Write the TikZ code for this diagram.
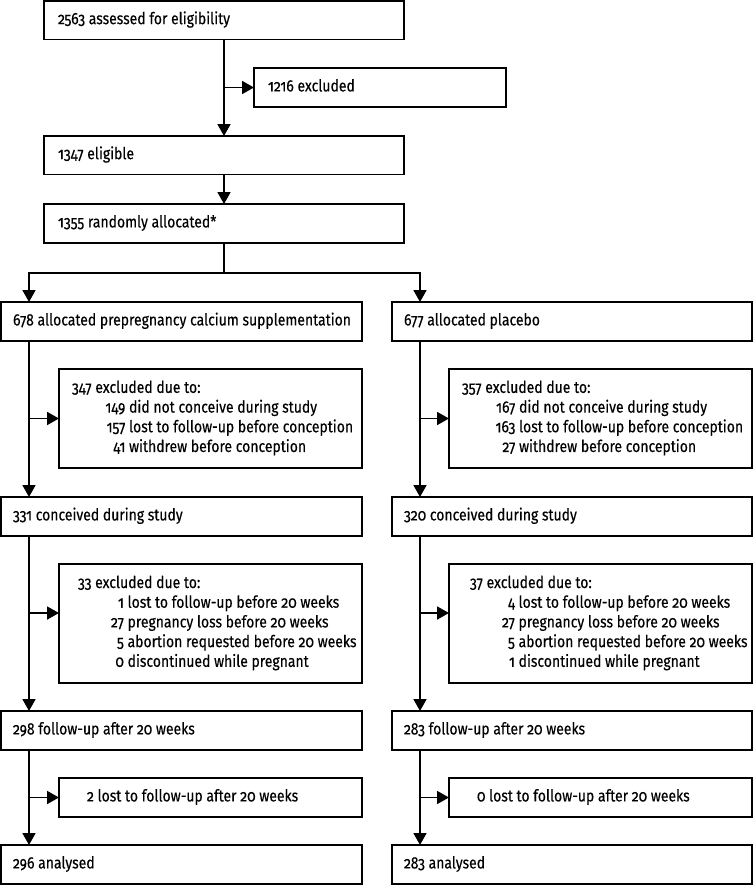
\documentclass[tikz,border=0pt]{standalone}
\usepackage{fontspec}
\usetikzlibrary{arrows.meta,calc}
\newfontfamily\probefont{Fira Sans}[Numbers=OldStyle]
\newlength\probelen
\settowidth\probelen{\probefont\fontsize{16.5}{19.7}\selectfont 678 allocated prepregnancy calcium supplementation}
\pgfmathsetmacro\stretchfac{338/\probelen}
\edef\tmpfontcmd{\noexpand\setmainfont{Fira Sans}[Numbers=OldStyle,FakeStretch=\stretchfac,FakeBold=0.3]}
\tmpfontcmd
\newlength\threedig
\newlength\twodig
\settowidth\threedig{\normalfont\fontsize{16.5}{19.7}\selectfont 000}
\settowidth\twodig{\normalfont\fontsize{16.5}{19.7}\selectfont 00}
\newcommand\nthree[1]{\makebox[\threedig][r]{#1}}
\newcommand\ntwo[1]{\makebox[\twodig][r]{#1}}
\newcommand\bxt[3]{\makebox[#1pt][l]{\hspace*{#2pt}\strut #3}}
\newcommand\bxm[3]{\makebox[#1pt][l]{\hspace*{#2pt}\begin{tabular}{@{}l@{}}#3\end{tabular}}}
\begin{document}
\begin{tikzpicture}[x=1pt,y=-1pt,
  every node/.style={font=\fontsize{16.5}{19.7}\selectfont, inner sep=0pt, outer sep=0pt},
  box/.style={draw, line width=1.8pt, anchor=north west, minimum height=#1},
  box/.default=38.5,
  conn/.style={line width=1.8pt},
  arr/.style={conn, -{Triangle[width=13pt,length=12pt]}}]
\useasboundingbox (0,0) rectangle (754,886);
% top part
\node[box] (A) at (44,1) {\bxt{360}{14}{2563 assessed for eligibility}};
\node[box=39] (X1) at (254,68) {\bxt{252}{14}{1216 excluded}};
\node[box] (B) at (44,136) {\bxt{360}{14}{1347 eligible}};
\node[box=39] (C) at (44,204) {\bxt{360}{14}{1355 randomly allocated*}};
% left column
\node[box=39] (DL) at (1,302) {\bxt{361}{12}{678 allocated prepregnancy calcium supplementation}};
\node[box=99] (EL) at (59,369) {\bxm{303}{13}{347 excluded due to:\\
  \hspace*{28pt}\nthree{149} did not conceive during study\\
  \hspace*{28pt}\nthree{157} lost to follow-up before conception\\
  \hspace*{28pt}\nthree{41} withdrew before conception}};
\node[box=39] (FL) at (1,497) {\bxt{361}{12}{331 conceived during study}};
\node[box=119] (GL) at (59,564) {\bxm{303}{19}{33 excluded due to:\\
  \hspace*{29pt}\ntwo{1} lost to follow-up before 20 weeks\\
  \hspace*{29pt}\ntwo{27} pregnancy loss before 20 weeks\\
  \hspace*{29pt}\ntwo{5} abortion requested before 20 weeks\\
  \hspace*{29pt}\ntwo{0} discontinued while pregnant}};
\node[box=39] (HL) at (1,711) {\bxt{361}{12}{298 follow-up after 20 weeks}};
\node[box=39] (IL) at (59,778) {\bxt{303}{28}{2 lost to follow-up after 20 weeks}};
\node[box=39] (JL) at (1,845) {\bxt{361}{12}{296 analysed}};
% right column
\node[box=39] (DR) at (392,302) {\bxt{360}{12}{677 allocated placebo}};
\node[box=99] (ER) at (449,369) {\bxm{303}{13}{357 excluded due to:\\
  \hspace*{28pt}\nthree{167} did not conceive during study\\
  \hspace*{28pt}\nthree{163} lost to follow-up before conception\\
  \hspace*{28pt}\nthree{27} withdrew before conception}};
\node[box=39] (FR) at (392,497) {\bxt{360}{12}{320 conceived during study}};
\node[box=119] (GR) at (449,564) {\bxm{303}{21}{37 excluded due to:\\
  \hspace*{28pt}\ntwo{4} lost to follow-up before 20 weeks\\
  \hspace*{28pt}\ntwo{27} pregnancy loss before 20 weeks\\
  \hspace*{28pt}\ntwo{5} abortion requested before 20 weeks\\
  \hspace*{28pt}\ntwo{1} discontinued while pregnant}};
\node[box=39] (HR) at (392,711) {\bxt{360}{12}{283 follow-up after 20 weeks}};
\node[box=39] (IR) at (449,778) {\bxt{303}{28}{0 lost to follow-up after 20 weeks}};
\node[box=39] (JR) at (392,845) {\bxt{360}{12}{283 analysed}};
% connectors top
\draw[arr] (A.south) -- (B.north);
\draw[arr] (A.south |- X1.west) -- (X1.west);
\draw[arr] (B.south) -- (C.north);
\draw[conn] (C.south) -- ($(C.south)+(0,30)$) coordinate (split);
\coordinate (LD) at ($(DL.north west)+(28,0)$);
\coordinate (RD) at ($(DR.north west)+(28,0)$);
\draw[arr] (split) -| (LD);
\draw[arr] (split) -| (RD);
% left connectors
\coordinate (L1) at ($(DL.south west)+(28,0)$);
\coordinate (L2) at ($(FL.south west)+(28,0)$);
\coordinate (L3) at ($(HL.south west)+(28,0)$);
\coordinate (GLa) at ($(GL.north west)+(0,49)$);
\draw[arr] (L1) -- (L1 |- FL.north);
\draw[arr] (L1 |- EL.west) -- (EL.west);
\draw[arr] (L2) -- (L2 |- HL.north);
\draw[arr] (L2 |- GLa) -- (GLa);
\draw[arr] (L3) -- (L3 |- JL.north);
\draw[arr] (L3 |- IL.west) -- (IL.west);
% right connectors
\coordinate (R1) at ($(DR.south west)+(28,0)$);
\coordinate (R2) at ($(FR.south west)+(28,0)$);
\coordinate (R3) at ($(HR.south west)+(28,0)$);
\coordinate (GRa) at ($(GR.north west)+(0,49)$);
\draw[arr] (R1) -- (R1 |- FR.north);
\draw[arr] (R1 |- ER.west) -- (ER.west);
\draw[arr] (R2) -- (R2 |- HR.north);
\draw[arr] (R2 |- GRa) -- (GRa);
\draw[arr] (R3) -- (R3 |- JR.north);
\draw[arr] (R3 |- IR.west) -- (IR.west);
\end{tikzpicture}
\end{document}
